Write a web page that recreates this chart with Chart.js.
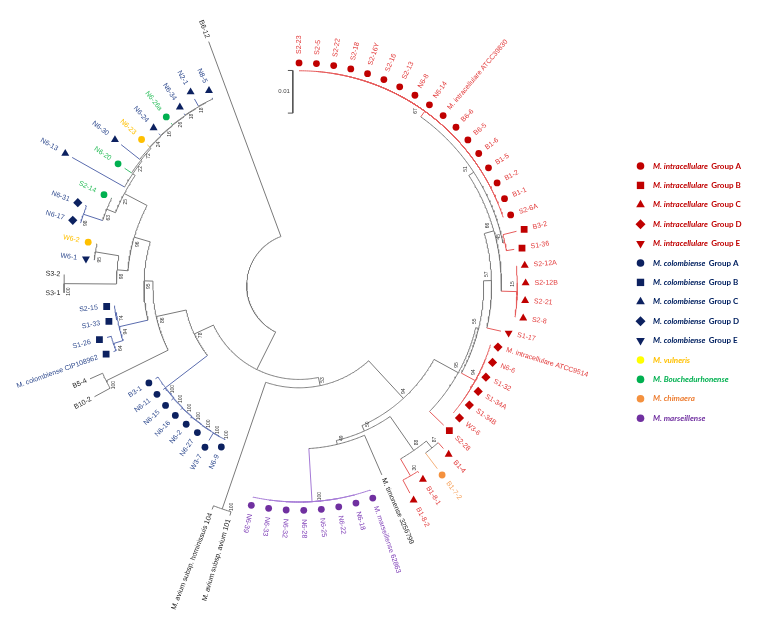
<!DOCTYPE html>
<html>
<head>
<meta charset="utf-8">
<title>Circular tree</title>
<script src="https://cdn.jsdelivr.net/npm/chart.js@4.4.0/dist/chart.umd.min.js"></script>
<style>
  html, body { margin: 0; padding: 0; background: #fff; }
  #wrap { width: 759px; height: 623px; }
</style>
</head>
<body>
<div id="wrap"><canvas id="tree" width="759" height="623"></canvas></div>
<script>
// ---- data ----
// tips in the order they sit round the circle, clockwise from the top
var tipNames = [
  'S2-23', 'S2-5', 'S2-22', 'S2-18', 'S2-16Y', 'S2-16', 'S2-13', 'N6-8', 'N6-14', 'M. intracellulare ATCC39830',
  'B6-6', 'B6-5', 'B1-6', 'B1-5', 'B1-2', 'B1-1', 'S2-6A', 'B3-2', 'S1-36', 'S2-12A',
  'S2-12B', 'S2-21', 'S2-8', 'S1-17', 'M. intracellulare ATCC9514', 'N6-6', 'S1-32', 'S1-34A', 'S1-34B', 'W3-6',
  'S2-28', 'B1-4', 'B1-7-2', 'B1-8-1', 'B1-8-2', 'M. timonense 3256799', 'M. marseillense 62863', 'N6-18', 'N6-22', 'N6-25',
  'N6-28', 'N6-32', 'N6-33', 'N6-39', 'M. avium subsp. avium 101', 'M. avium subsp. hominissuis 104', 'N6-9', 'W3-7', 'N6-27', 'N6-2',
  'N6-16', 'N6-15', 'N6-11', 'B3-1', 'B10-2', 'B5-4', 'M. colombiense CIP108962', 'S1-26', 'S1-33', 'S2-15',
  'S3-1', 'S3-2', 'W6-1', 'W6-2', 'N6-17', 'N6-31', 'S2-14', 'N6-13', 'N6-20', 'N6-30',
  'N6-23', 'N6-24', 'N6-26a', 'N6-34', 'N2-1', 'N8-5', 'B6-12'
];
var tipGroups = [
  'iA','iA','iA','iA','iA','iA','iA','iA','iA','iA',
  'iA','iA','iA','iA','iA','iA','iA','iB','iB','iC',
  'iC','iC','iC','iE','iD','iD','iD','iD','iD','iD',
  'iB','iC','chi','iC','iC','','mar','mar','mar','mar',
  'mar','mar','mar','mar','','','cA','cA','cA','cA',
  'cA','cA','cA','cA','','','cB','cB','cB','cB',
  '','','cE','vul','cD','cD','bou','cC','bou','cC',
  'vul','cC','bou','cC','cC','cC',''
];
// distance of each tip from the centre (scale bar 0.01 = 43.3 units)
var tipRadius = [
  218, 218, 218, 218, 218, 218, 218, 218, 218, 218,
  218, 218, 218, 218, 218, 218, 218, 227, 221, 221.5,
  221.5, 221.5, 221.5, 209.7, 203, 203, 203, 203, 203, 203,
  204, 221, 233, 225.6, 239, 210, 220.5, 220.5, 220.5, 220.5,
  220.5, 220.5, 220.5, 220.5, 244, 244, 174, 182, 173.5, 173.5,
  174, 174, 173.5, 173.5, 236, 232, 199.5, 201.5, 188, 188,
  238, 238, 209.5, 210, 230.5, 231.3, 210, 264, 213, 230,
  209.7, 209.5, 209.6, 209.6, 217, 209.8, 264
];

// internal nodes: children are tip indices or node names
var nodeNames = ['nA','nB','nC','n51','n66','n57','nD','n55','n95','n87','n18','n88','nP','n49','n50','n94','nAv','n53',
  'c1','c2','c3','c4','c5','c6','c7','nB10','nCS','n74','colB','nS3','nW6','n98','pair','n63',
  'k1','k2','k3','k4','k5','k6','nV','nW','nY','nZ','n95L','nM','nN','nR','root'];
var nodeChildren = [
  [0,1,2,3,4,5,6,7,8,9,10,11,12,13,14,15,16], [17,18], [19,20,21,22], ['nA','nB'], ['n51','nC'], ['n66',23],
  [24,25,26,27,28,29], ['n57','nD'], ['n55',30], [31,32], [33,34], ['n87','n18'], [36,37,38,39,40,41,42,43],
  [35,'nP'], ['n88','n49'], ['n95','n50'], [44,45], ['n94','nAv'],
  [46,47], ['c1',48], ['c2',49], ['c3',50], ['c4',51], ['c5',52], ['c6',53], [54,55], [56,57], [58,59],
  ['nCS','n74'], [60,61], [62,63], ['nS3','nW6'], [64,65], ['pair',66],
  [74,75], [73,'k1'], [72,'k2'], [71,'k3'], [70,'k4'], [69,'k5'], [68,'k6'], [67,'nV'], ['n63','nW'],
  ['n98','nY'], ['colB','nZ'], ['nB10','n95L'], ['c7','nM'], ['n53','nN'], ['nR',76]
];
var nodeRadius = [218, 213, 221, 211, 205, 195, 203, 187, 184, 213, 224, 204, 220, 166, 162, 156, 240, 104,
  173.5, 173, 172.5, 172, 171.5, 171, 170.5, 218, 197, 188, 187, 238, 209, 185, 230, 209.5,
  208.5, 208, 207.5, 207, 206.5, 206, 204.5, 203, 200, 174, 157, 148, 117, 95.5, 53];
var nodeSupport = ['67','45','15','51','66','57','94','55','95','87','30','88','100','49','50','94','100','53',
  '100','100','100','100','100','100','100','100','64','74','94','100','95','98','98','63',
  '18','18','26','16','24','72','22','','25','96','95','86','78','',''];
var nodeClade = ['intra','intra','intra','','','','intra','','','','intra','','mars','','','','','',
  '','','','','','','colom','','','','colom','','','','colom','',
  '','','','','','','','','','','','','','',''];

// legend
var groupKeys = ['iA','iB','iC','iD','iE','cA','cB','cC','cD','cE','vul','bou','chi','mar'];
var groupSpecies = ['M. intracellulare','M. intracellulare','M. intracellulare','M. intracellulare','M. intracellulare',
  'M. colombiense','M. colombiense','M. colombiense','M. colombiense','M. colombiense',
  'M. vulneris','M. Bouchedurhonense','M. chimaera','M. marseillense'];
var groupSuffix = ['Group A','Group B','Group C','Group D','Group E','Group A','Group B','Group C','Group D','Group E','','','',''];

var scaleBarValue = 0.01, scaleBarUnits = 43.3;

// ---- layout and styles ----
var startAngle = -90, angleStep = 4.47;   // degrees, clockwise from east
var markerGap = 8;

var branchColors = { gray: '#7a7a7a', intra: '#e65c5c', colom: '#5a6cae', mars: '#a57ad6', chi: '#f5b07a', vul: '#f0c84a', bou: '#40c070' };
var groupStyle = {
  iA: ['circle', 0, '#c00000', 'intra'], iB: ['rect', 0, '#c00000', 'intra'], iC: ['triangle', 0, '#c00000', 'intra'],
  iD: ['rectRot', 0, '#c00000', 'intra'], iE: ['triangle', 180, '#c00000', 'intra'],
  cA: ['circle', 0, '#0c2160', 'colom'], cB: ['rect', 0, '#0c2160', 'colom'], cC: ['triangle', 0, '#0c2160', 'colom'],
  cD: ['rectRot', 0, '#0c2160', 'colom'], cE: ['triangle', 180, '#0c2160', 'colom'],
  vul: ['circle', 0, '#ffc000', 'vul'], bou: ['circle', 0, '#00b050', 'bou'], chi: ['circle', 0, '#f4913e', 'chi'], mar: ['circle', 0, '#7030a0', 'mars']
};
var markerSize = { circle: 3.4, rect: 4.8, triangle: 4.6, rectRot: 4.6 };
var tipTextColor = { intra: '#e23a3a', colom: '#2f4a8e', vul: '#ffc000', bou: '#2fbf5e', chi: '#f6a35e', mars: '#8042b8', '': '#222' };
var legendColor = { intra: '#c00000', colom: '#002060', vul: '#ffc000', bou: '#00b050', chi: '#ed7d31', mars: '#7030a0' };

// ---- tree geometry ----
var nodes = {}, parentOf = {};
nodeNames.forEach(function (name, i) {
  nodes[name] = { kids: nodeChildren[i], r: nodeRadius[i], support: nodeSupport[i], clade: nodeClade[i] };
  nodeChildren[i].forEach(function (k) { if (typeof k === 'string') parentOf[k] = name; });
});
function tipAngle(i) { return startAngle + i * angleStep; }
function angleOf(ref) {
  if (typeof ref === 'number') return tipAngle(ref);
  var n = nodes[ref];
  if (n.angle === undefined) n.angle = (angleOf(n.kids[0]) + angleOf(n.kids[n.kids.length - 1])) / 2;
  return n.angle;
}
function cladeOf(name) {
  if (!name) return '';
  return nodes[name].clade || cladeOf(parentOf[name]);
}
function polar(r, deg) {
  var a = deg * Math.PI / 180;
  return { x: r * Math.cos(a), y: r * Math.sin(a) };
}
function arcPoints(r, a0, a1) {
  var n = Math.max(1, Math.ceil(Math.abs(a1 - a0) / 0.5)), pts = [];
  for (var k = 0; k <= n; k++) pts.push(polar(r, a0 + (a1 - a0) * k / n));
  return pts;
}

var lines = {};
function addLine(key, pts) {
  if (!lines[key]) lines[key] = [];
  Array.prototype.push.apply(lines[key], pts);
  lines[key].push({ x: null, y: null });
}

nodeNames.forEach(function (name) {
  var node = nodes[name];
  var na = angleOf(name);
  var arcKey = cladeOf(name) || 'gray';
  node.kids.forEach(function (kid) {
    var ka = angleOf(kid), kr, key;
    if (Math.abs(ka - na) > 0.01) addLine(arcKey, arcPoints(node.r, na, ka));
    if (typeof kid === 'number') {
      kr = tipRadius[kid];
      key = cladeOf(name) || (tipGroups[kid] ? groupStyle[tipGroups[kid]][3] : 'gray');
    } else {
      kr = nodes[kid].r;
      key = cladeOf(kid) || 'gray';
    }
    if (kr - node.r > 0.2) addLine(key, [polar(node.r, ka), polar(kr, ka)]);
  });
});

// scale bar, placed beside the first tip
var bar = { x: -6.3, top: -218.3 };
var barPts = [
  { x: bar.x - 5, y: bar.top }, { x: bar.x, y: bar.top },
  { x: bar.x, y: bar.top + scaleBarUnits }, { x: bar.x - 5, y: bar.top + scaleBarUnits }
];

var datasets = [];
Object.keys(lines).forEach(function (key) {
  datasets.push({ data: lines[key], showLine: true, borderColor: branchColors[key], borderWidth: 1,
    pointRadius: 0, spanGaps: false, order: 2 });
});
datasets.push({ data: barPts, showLine: true, borderColor: '#555', borderWidth: 1, pointRadius: 0, order: 2 });

groupKeys.forEach(function (g) {
  var st = groupStyle[g], pts = [];
  tipGroups.forEach(function (tg, i) {
    if (tg === g) pts.push(polar(tipRadius[i] + markerGap, tipAngle(i)));
  });
  datasets.push({ data: pts, pointStyle: st[0], rotation: st[1], pointRadius: markerSize[st[0]],
    backgroundColor: st[2], borderColor: st[2], borderWidth: 0, order: 1 });
});

var textPlugin = {
  id: 'treeText',
  afterDatasetsDraw: function (chart) {
    var ctx = chart.ctx, sx = chart.scales.x, sy = chart.scales.y;
    function px(p) { return [sx.getPixelForValue(p.x), sy.getPixelForValue(p.y)]; }
    ctx.save();
    // tip labels
    ctx.font = '7px "Liberation Sans", Arial, sans-serif';
    ctx.textBaseline = 'middle';
    tipNames.forEach(function (name, i) {
      var a = tipAngle(i), g = tipGroups[i];
      var p = px(polar(tipRadius[i] + (g ? 17 : 4), a));
      var flip = a > 105 && a < 260;
      ctx.save();
      ctx.translate(p[0], p[1]);
      ctx.rotate((flip ? a + 180 : a) * Math.PI / 180);
      ctx.textAlign = flip ? 'right' : 'left';
      ctx.fillStyle = tipTextColor[g ? groupStyle[g][3] : ''];
      ctx.fillText(name, 0, 0);
      ctx.restore();
    });
    // bootstrap values
    ctx.font = '5px "Liberation Sans", Arial, sans-serif';
    ctx.fillStyle = '#333';
    ctx.textAlign = 'center';
    nodeNames.forEach(function (name) {
      var n = nodes[name];
      if (!n.support) return;
      var p = px(polar(n.r - 5, angleOf(name) - 2));
      ctx.save();
      ctx.translate(p[0], p[1]);
      ctx.rotate(-Math.PI / 2);
      ctx.fillText(n.support, 0, 0);
      ctx.restore();
    });
    // scale bar label
    var b = px({ x: bar.x, y: bar.top + scaleBarUnits / 2 });
    ctx.font = '6px "Liberation Sans", Arial, sans-serif';
    ctx.textAlign = 'right';
    ctx.fillStyle = '#444';
    ctx.fillText(String(scaleBarValue), b[0] - 3, b[1]);

    // legend
    var lx = 640.5, tx = 653, ly = 166, step = 19.4;
    var draw = Chart.helpers && Chart.helpers.drawPoint;
    groupKeys.forEach(function (g, i) {
      var st = groupStyle[g], y = ly + i * step;
      ctx.fillStyle = g === 'vul' ? '#ffff00' : st[2];
      if (draw) draw(ctx, { pointStyle: st[0], rotation: st[1], radius: markerSize[st[0]] + 0.4, borderWidth: 0 }, lx, y);
      ctx.fillStyle = legendColor[st[3]];
      ctx.textAlign = 'left';
      ctx.font = 'italic bold 8px Lato, "Liberation Sans", sans-serif';
      ctx.fillText(groupSpecies[i], tx, y);
      if (groupSuffix[i]) {
        var w = ctx.measureText(groupSpecies[i] + ' ').width;
        ctx.font = 'bold 8px Lato, "Liberation Sans", sans-serif';
        ctx.fillText(groupSuffix[i], tx + w + 1.5, y);
      }
    });
    ctx.restore();
  }
};

new Chart(document.getElementById('tree'), {
  type: 'scatter',
  data: { datasets: datasets },
  options: {
    responsive: false,
    devicePixelRatio: 1,
    animation: false,
    events: [],
    layout: { padding: 0 },
    scales: {
      x: { type: 'linear', min: -298, max: 461, display: false },
      y: { type: 'linear', min: -285, max: 338, reverse: true, display: false }
    },
    plugins: { legend: { display: false }, tooltip: { enabled: false } }
  },
  plugins: [textPlugin]
});
</script>
</body>
</html>
